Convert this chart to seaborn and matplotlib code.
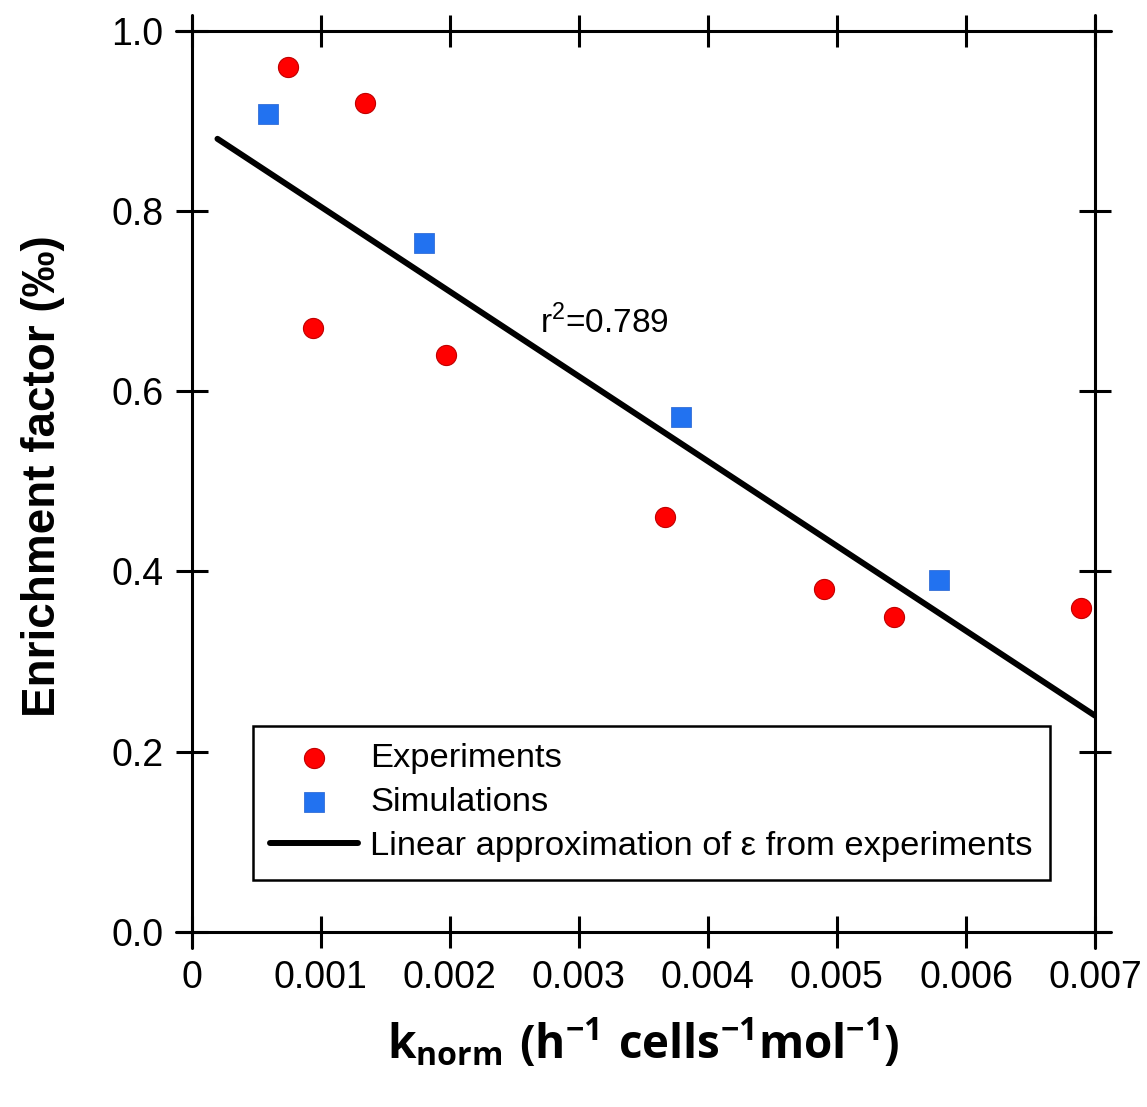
import matplotlib
matplotlib.use("Agg")
import matplotlib.pyplot as plt
import seaborn as sns
import pandas as pd

# ---- data ----
exp_x = [0.00075, 0.00094, 0.00134, 0.00197, 0.00367, 0.00490, 0.00544, 0.00689]
exp_y = [0.960, 0.670, 0.920, 0.640, 0.460, 0.380, 0.350, 0.360]
sim_x = [0.00059, 0.00180, 0.00379, 0.00579]
sim_y = [0.908, 0.764, 0.571, 0.390]
fit_x = [0.0002, 0.0070]
fit_y = [0.880, 0.240]
xticks = [0, 0.001, 0.002, 0.003, 0.004, 0.005, 0.006, 0.007]
xtick_labels = ["0", "0.001", "0.002", "0.003", "0.004", "0.005", "0.006", "0.007"]
yticks = [0.0, 0.2, 0.4, 0.6, 0.8, 1.0]
ytick_labels = ["0.0", "0.2", "0.4", "0.6", "0.8", "1.0"]
r2_text = "r$^2$=0.789"
lbl_exp = "Experiments"
lbl_sim = "Simulations"
lbl_fit = "Linear approximation of \u03b5 from experiments"

exp_df = pd.DataFrame({"k": exp_x, "eps": exp_y})
sim_df = pd.DataFrame({"k": sim_x, "eps": sim_y})
fit_df = pd.DataFrame({"k": fit_x, "eps": fit_y})

sns.set_style("white")
plt.rcParams['font.family'] = ['Liberation Sans', 'DejaVu Sans']
plt.rcParams['mathtext.fontset'] = 'custom'
plt.rcParams['mathtext.rm'] = 'Liberation Sans'
plt.rcParams['mathtext.bf'] = 'Open Sans:bold'
plt.rcParams['text.color'] = 'black'
plt.rcParams['axes.labelcolor'] = 'black'
plt.rcParams['xtick.color'] = 'black'
plt.rcParams['ytick.color'] = 'black'

fig = plt.figure(figsize=(11.47, 11.07), dpi=100)
ax = fig.add_axes([0.1671, 0.1581, 0.7876, 0.8142])

sns.lineplot(data=fit_df, x="k", y="eps", ax=ax, color="black", lw=4.3,
             label=lbl_fit, zorder=2)
sns.scatterplot(data=exp_df, x="k", y="eps", ax=ax, marker="o", s=210,
                color="#FF0000", edgecolor="#C00000", linewidth=0.8,
                label=lbl_exp, zorder=3)
sns.scatterplot(data=sim_df, x="k", y="eps", ax=ax, marker="s", s=200,
                color="#2272F0", edgecolor="#2060D0", linewidth=0.5,
                label=lbl_sim, zorder=3)

ax.set_xlim(0, 0.007)
ax.set_ylim(0, 1.0)
ax.set_xticks(xticks)
ax.set_xticklabels(xtick_labels)
ax.set_yticks(yticks)
ax.set_yticklabels(ytick_labels)

for s in ax.spines.values():
    s.set_visible(False)
ext_x = 0.0177
ext_y = 0.0178
lw = 2.2
ax.plot([-ext_x, 1 + ext_x], [0, 0], transform=ax.transAxes, color="black", lw=lw, clip_on=False, zorder=5)
ax.plot([-ext_x, 1 + ext_x], [1, 1], transform=ax.transAxes, color="black", lw=lw, clip_on=False, zorder=5)
ax.plot([0, 0], [-ext_y, 1 + ext_y], transform=ax.transAxes, color="black", lw=lw, clip_on=False, zorder=5)
ax.plot([1, 1], [-ext_y, 1 + ext_y], transform=ax.transAxes, color="black", lw=lw, clip_on=False, zorder=5)

ax.tick_params(axis="both", direction="inout", length=23, width=2.2,
               top=True, right=True, bottom=True, left=True,
               labeltop=False, labelright=False, color="black", labelcolor="black")
ax.tick_params(axis="x", labelsize=27, pad=9)
ax.tick_params(axis="y", labelsize=27, pad=9)

ax.set_ylabel("Enrichment factor (\u2030)", fontsize=33, fontweight="bold",
              color="black")
ax.yaxis.set_label_coords(-0.140, 0.506)
ax.set_xlabel(r"$\mathbf{k}_{\mathbf{norm}}\ \mathbf{(h^{-1}\ cells^{-1}mol^{-1})}$",
              fontsize=33, labelpad=14, color="black")

ax.text(0.0027, 0.665, r2_text, fontsize=24, color="black")

handles, labels = ax.get_legend_handles_labels()
order = [labels.index(lbl_exp), labels.index(lbl_sim), labels.index(lbl_fit)]
leg = ax.legend([handles[i] for i in order], [labels[i] for i in order],
                loc="lower left", bbox_to_anchor=(0.068, 0.058),
                fontsize=24.8, frameon=True, fancybox=False, edgecolor="black",
                framealpha=1, handlelength=2.55, handletextpad=0.35,
                borderpad=0.5, labelspacing=0.38, borderaxespad=0)
leg.get_frame().set_linewidth(1.8)
for t in leg.get_texts():
    t.set_color("black")

fig.savefig("out.png", dpi=100, facecolor="white")
